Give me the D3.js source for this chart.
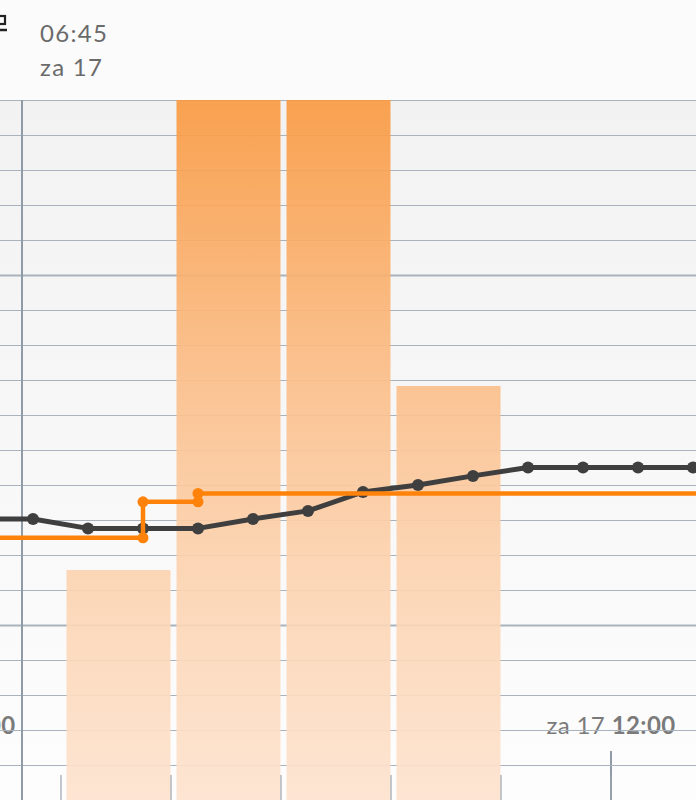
<!DOCTYPE html>
<html>
<head>
<meta charset="utf-8">
<script src="https://cdn.jsdelivr.net/npm/d3@7"></script>
<style>
  html, body { margin: 0; padding: 0; background: #fbfbfb; }
  svg { display: block; font-family: Lato, "Open Sans", sans-serif; }
</style>
</head>
<body>
<svg id="chart" width="696" height="800"></svg>
<script>
// ---- data (za 17, times as "HH:MM") ----
var day = "2021-07-17";
var glucoseTimes  = ["06:15","06:45","07:15","07:45","08:15","08:45","09:15","09:45","10:15","10:45","11:15","11:45","12:15","12:45","13:15"];
var glucoseValues = [8.03, 8.03, 7.76, 7.76, 7.76, 8.03, 8.26, 8.8, 9.0, 9.26, 9.5, 9.5, 9.5, 9.5, 9.5];

var targetTimes  = ["06:00","07:45","08:15","13:30"];
var targetValues = [7.49, 8.52, 8.76, 8.76];

var barStarts = ["07:00","08:00","09:00","10:00"];
var barValues = [6.57, 23, 22, 11.83];

var cursorTime = "06:39";
var headerTime = "06:45", headerDay = "za 17";

var width = 696, height = 800, plotTop = 100;

function t(s) { return new Date(day + "T" + s + ":00"); }

var x = d3.scaleTime()
    .domain([t("06:00"), t("12:00")])
    .range([-49.5, 610.5]);

var y = d3.scaleLinear()
    .domain([0, 20])
    .range([height, plotTop]);

var svg = d3.select("#chart");
var defs = svg.append("defs");

defs.append("clipPath").attr("id", "plot")
    .append("rect").attr("x", 0).attr("y", plotTop).attr("width", width).attr("height", height - plotTop);

var bg = defs.append("linearGradient").attr("id", "bg")
    .attr("gradientUnits", "userSpaceOnUse")
    .attr("x1", 0).attr("y1", plotTop).attr("x2", 0).attr("y2", height);
bg.append("stop").attr("offset", 0).attr("stop-color", "#f2f2f2");
bg.append("stop").attr("offset", 1).attr("stop-color", "#fdfdfd");

var bar = defs.append("linearGradient").attr("id", "barfill")
    .attr("gradientUnits", "userSpaceOnUse")
    .attr("x1", 0).attr("y1", plotTop).attr("x2", 0).attr("y2", height);
bar.append("stop").attr("offset", 0).attr("stop-color", "#f99a42");
bar.append("stop").attr("offset", 0.41).attr("stop-color", "#fbbf8b");
bar.append("stop").attr("offset", 0.67).attr("stop-color", "#fcd3b0");
bar.append("stop").attr("offset", 1).attr("stop-color", "#fde3cf");

// header
svg.append("rect").attr("width", width).attr("height", plotTop).attr("fill", "#fbfbfb");
svg.append("rect").attr("x", -8).attr("y", 16).attr("width", 13).attr("height", 8)
    .attr("fill", "none").attr("stroke", "#222").attr("stroke-width", 2.2);
svg.append("line").attr("x1", -8).attr("x2", 7).attr("y1", 30).attr("y2", 30)
    .attr("stroke", "#222").attr("stroke-width", 2.5);

svg.append("text").attr("x", 40).attr("y", 42)
    .attr("font-size", 24).attr("letter-spacing", 1.3).attr("fill", "#6a6a6a").text(headerTime);
svg.append("text").attr("x", 40).attr("y", 76)
    .attr("font-size", 24).attr("letter-spacing", 1.3).attr("fill", "#6a6a6a").text(headerDay);

var plot = svg.append("g").attr("clip-path", "url(#plot)");

plot.append("rect").attr("x", 0).attr("y", plotTop)
    .attr("width", width).attr("height", height - plotTop).attr("fill", "url(#bg)");

// time axis: 6-hour labels (gridlines are drawn over them)
var major = plot.append("g")
    .attr("transform", "translate(0," + height + ")")
    .call(d3.axisTop(x).ticks(d3.timeHour.every(6)).tickSize(49).tickPadding(17).tickFormat(""));
major.select(".domain").remove();
major.selectAll(".tick line").attr("stroke", "#8f9ba6").attr("stroke-width", 2);
major.selectAll(".tick text")
    .attr("font-size", 24).attr("fill", "#7a7a7a").attr("letter-spacing", 0.4)
    .attr("font-family", "Lato, 'Open Sans', sans-serif")
    .each(function(d) {
        var el = d3.select(this);
        el.append("tspan").text("za " + d3.timeFormat("%-d")(d) + " ");
        el.append("tspan").attr("font-weight", 700).text(d3.timeFormat("%H:%M")(d));
    });

// horizontal grid
var grid = plot.append("g")
    .call(d3.axisLeft(y).tickValues(d3.range(0, 21)).tickSize(-width).tickFormat(""));
grid.select(".domain").remove();
grid.selectAll(".tick line")
    .attr("stroke", "#a9b3bd")
    .attr("stroke-width", d => (d === 5 || d === 15) ? 2 : 1.2);

// bars (hourly)
plot.selectAll(".bar")
    .data(barStarts.map((s, i) => ({ start: t(s), value: barValues[i] })))
    .enter().append("rect")
    .attr("class", "bar")
    .attr("x", d => x(d.start) + 6)
    .attr("width", d => x(d3.timeHour.offset(d.start, 1)) - x(d.start) - 6)
    .attr("y", d => y(d.value))
    .attr("height", d => height - y(d.value))
    .attr("fill", "url(#barfill)")
    .attr("opacity", 0.92);

// cursor line
plot.append("line")
    .attr("x1", x(t(cursorTime))).attr("x2", x(t(cursorTime)))
    .attr("y1", plotTop).attr("y2", height)
    .attr("stroke", "#8f9ba6").attr("stroke-width", 2);

// hourly ticks
var hours = plot.append("g")
    .attr("transform", "translate(0," + height + ")")
    .call(d3.axisTop(x).ticks(d3.timeHour.every(1)).tickSize(25).tickFormat(""));
hours.select(".domain").remove();
hours.selectAll(".tick line").attr("stroke", "#9aa5ae").attr("stroke-width", 1.2);

// glucose line
var glucose = glucoseTimes.map((s, i) => ({ time: t(s), value: glucoseValues[i] }));
plot.append("path")
    .datum(glucose)
    .attr("fill", "none")
    .attr("stroke", "#3f3f3f")
    .attr("stroke-width", 5)
    .attr("stroke-linejoin", "round")
    .attr("d", d3.line().x(d => x(d.time)).y(d => y(d.value)));
plot.selectAll(".gdot")
    .data(glucose)
    .enter().append("circle")
    .attr("class", "gdot")
    .attr("cx", d => x(d.time)).attr("cy", d => y(d.value))
    .attr("r", 6).attr("fill", "#3f3f3f");

// target step line
var target = targetTimes.map((s, i) => ({ time: t(s), value: targetValues[i] }));
plot.append("path")
    .datum(target)
    .attr("fill", "none")
    .attr("stroke", "#ff820a")
    .attr("stroke-width", 4.5)
    .attr("d", d3.line().curve(d3.curveStepAfter).x(d => x(d.time)).y(d => y(d.value)));

var stepDots = [];
for (var i = 1; i < target.length - 1; i++) {
    stepDots.push({ time: target[i].time, value: target[i - 1].value });
    stepDots.push({ time: target[i].time, value: target[i].value });
}
plot.selectAll(".tdot")
    .data(stepDots)
    .enter().append("circle")
    .attr("class", "tdot")
    .attr("cx", d => x(d.time)).attr("cy", d => y(d.value))
    .attr("r", 5.5).attr("fill", "#ff820a");
</script>
</body>
</html>
